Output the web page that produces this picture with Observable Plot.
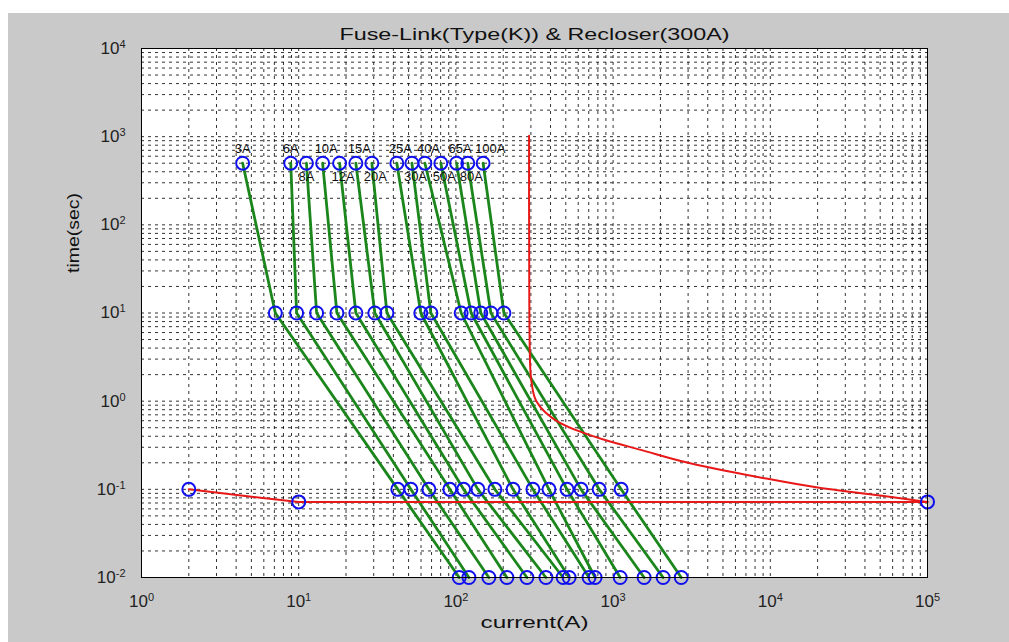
<!DOCTYPE html>
<html><head><meta charset="utf-8">
<script src="https://cdn.jsdelivr.net/npm/d3@7"></script>
<script src="https://cdn.jsdelivr.net/npm/@observablehq/plot@0.6"></script>
<style>
html,body{margin:0;padding:0;background:#fff;width:1009px;height:642px;overflow:hidden}
#bg{position:absolute;left:8px;top:13px;width:1001px;height:629px;background:#c9c9c9}
#chart{position:absolute;left:0;top:0}
</style></head><body><div id="bg"></div><div id="chart"></div>
<script>
// ---- data ----
const titleText = "Fuse-Link(Type(K)) & Recloser(300A)";
const xLabelText = "current(A)";
const yLabelText = "time(sec)";
const fuseLabels = ["3A","6A","8A","10A","12A","15A","20A","25A","30A","40A","50A","65A","80A","100A"];
const fuseTimes = [500, 10, 0.1, 0.01];
const fuseI500 = [4.4, 8.9, 11.2, 14.2, 18.2, 23.1, 29.2, 42.1, 52.5, 63.5, 80.2, 101, 119, 149];
const fuseI10  = [7.1, 9.7, 13.0, 17.5, 23.1, 30.5, 36.4, 59.8, 69.3, 108, 125, 144, 167, 202];
const fuseI01  = [42.7, 51.7, 67.3, 91.5, 112, 138, 177, 231, 309, 391, 509, 625, 815, 1125];
const fuseI001 = [105, 121, 162, 211, 283, 374, 481, 525, 703, 768, 1109, 1575, 2081, 2713];
const fastI = [2, 4.3, 10, 100000];
const fastT = [0.1, 0.085, 0.072, 0.072];
const slowI = [292, 292, 293, 296, 305, 325, 370, 450, 600, 900, 1500, 3000, 8000, 20000, 50000, 100000];
const slowT = [1025, 187, 13.7, 2.85, 1.5, 1.0, 0.75, 0.58, 0.46, 0.36, 0.28, 0.2, 0.14, 0.105, 0.085, 0.072];
const recloserPtI = [2, 10, 100000];
const recloserPtT = [0.1, 0.072, 0.072];
const xTicks = [1, 10, 100, 1000, 10000, 100000];
const xTickExp = ["0","1","2","3","4","5"];
const yTicks = [0.01, 0.1, 1, 10, 100, 1000, 10000];
const yTickExp = ["-2","-1","0","1","2","3","4"];

// ---- derived tables ----
const fuseData = fuseLabels.flatMap((lab, i) =>
  [fuseI500[i], fuseI10[i], fuseI01[i], fuseI001[i]].map((I, j) => ({fuse: lab, I, t: fuseTimes[j]})));
const fuseTop = fuseLabels.map((lab, i) => ({label: lab, I: fuseI500[i], t: fuseTimes[0], up: i < 2 ? true : i % 2 === 1}));
const fast = fastI.map((I, i) => ({I, t: fastT[i]}));
const slow = slowI.map((I, i) => ({I, t: slowT[i]}));
const recPts = recloserPtI.map((I, i) => ({I, t: recloserPtT[i]}));
const gridX = [];
for (let e = 0; e < 5; e++) for (let k = 1; k < 10; k++) gridX.push(k * 10 ** e);
const gridY = [];
for (let e = -2; e < 4; e++) for (let k = 1; k < 10; k++) gridY.push(k * 10 ** e);

const font = "'Liberation Sans', Arial, sans-serif";
const green = "#1b861b", red = "#e81818", blue = "#1010ee";
const chart = Plot.plot({
  width: 1009, height: 642,
  marginLeft: 141, marginRight: 82, marginTop: 48, marginBottom: 65,
  style: {background: "transparent", fontFamily: font, fontSize: "15px", color: "#222"},
  x: {type: "log", domain: [1, 1e5]},
  y: {type: "log", domain: [0.01, 1e4]},
  marks: [
    Plot.frame({fill: "white", stroke: null}),
    Plot.ruleX(gridX, {stroke: "#000", strokeOpacity: 0.8, strokeDasharray: "3,4"}),
    Plot.ruleY(gridY, {stroke: "#000", strokeOpacity: 0.8, strokeDasharray: "3,4"}),
    Plot.axisX({ticks: xTicks, tickFormat: d => "10" + xTickExp[xTicks.indexOf(d)], tickSize: 0, tickPadding: 17, label: null, fontSize: 17}),
    Plot.axisY({ticks: yTicks, tickFormat: d => "10" + yTickExp[yTicks.indexOf(d)], tickSize: 0, tickPadding: 16, label: null, fontSize: 17}),
    Plot.line(fuseData, {x: "I", y: "t", z: "fuse", stroke: green, strokeWidth: 2.8}),
    Plot.line(fast, {x: "I", y: "t", stroke: red, strokeWidth: 2}),
    Plot.line(slow, {x: "I", y: "t", stroke: red, strokeWidth: 2, curve: "monotone-y"}),
    Plot.dot(fuseData, {x: "I", y: "t", r: 6.5, stroke: blue, strokeWidth: 2}),
    Plot.dot(recPts, {x: "I", y: "t", r: 6.5, stroke: blue, strokeWidth: 2}),
    Plot.text(fuseTop.filter(d => d.up), {x: "I", y: "t", text: "label", dy: -14, dx: -8, textAnchor: "start", fontSize: 13, fill: "#111"}),
    Plot.text(fuseTop.filter(d => !d.up), {x: "I", y: "t", text: "label", dy: 14, dx: -8, textAnchor: "start", fontSize: 13, fill: "#111"}),
    Plot.frame({stroke: "#000", strokeWidth: 1}),
    Plot.text([titleText], {frameAnchor: "top", dy: -20, fontSize: 16, fill: "#111"}),
    Plot.text([xLabelText], {frameAnchor: "bottom", dy: 50, fontSize: 16, fill: "#111"}),
    Plot.text([yLabelText], {frameAnchor: "left", dx: -68, dy: -40, rotate: -90, fontSize: 16, fill: "#111"})
  ]
});
// render exponents as raised superscripts
chart.querySelectorAll('g[aria-label$="tick label"] text').forEach(t => {
  const s = t.textContent;
  if (!s.startsWith("10")) return;
  const exp = s.slice(2);
  t.textContent = "10";
  const ts = document.createElementNS("http://www.w3.org/2000/svg", "tspan");
  ts.setAttribute("dy", "-0.55em");
  ts.setAttribute("font-size", "11");
  ts.textContent = exp;
  t.appendChild(ts);
});
// the reference figure is horizontally stretched: widen the title and axis labels
const stretch = {[titleText]: 390, [xLabelText]: 108, [yLabelText]: 80};
chart.querySelectorAll("text").forEach(t => {
  const w = stretch[t.textContent];
  if (w) { t.setAttribute("textLength", w); t.setAttribute("lengthAdjust", "spacingAndGlyphs"); }
});
document.getElementById("chart").appendChild(chart);
</script></body></html>
